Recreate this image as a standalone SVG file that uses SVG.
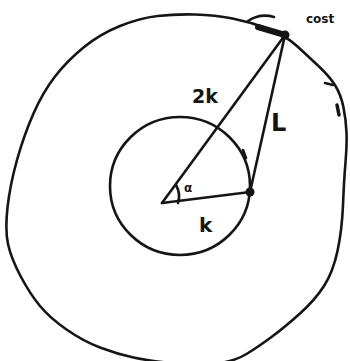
<svg xmlns="http://www.w3.org/2000/svg" width="350" height="361" viewBox="0 0 350 361">
<style>
.ln{fill:none;stroke:#151515;stroke-width:2.6;stroke-linecap:round;stroke-linejoin:round}
.lb{font-family:"DejaVu Sans","Liberation Sans",sans-serif;fill:#151515;font-weight:bold}
</style>
<rect width="350" height="361" fill="#ffffff"/>
<g id="outer-circle">
<path class="ln" d="M157.5,16 Q175,14 195,14.5 Q215,15 232.5,18.5 Q250,22 267.5,28.5 Q285,35 297.5,46.5 Q310,58 320,67.5 Q330,77 335.5,86 Q341,95 343.5,107.5 Q346,120 346.5,132.5 Q347,145 345.5,162.5 Q344,180 343,205 Q342,230 337.5,251 Q333,272 324,286 Q315,300 300,313.5 Q285,327 271.5,337 Q258,347 246.5,354 Q235,361 217.5,363.5 Q200,366 175,363.5 Q150,361 133.5,357.5 Q117,354 100,347.5 Q83,341 66.5,329.5 Q50,318 40,306 Q30,294 20.5,276 Q11,258 8,244 Q5,230 7.5,207.5 Q10,185 17,160 Q24,135 33.5,113.5 Q43,92 55,76.5 Q67,61 83.5,47.5 Q100,34 120,26 Q140,18 157.5,16 Z"/>
<path class="ln" d="M325,83 L333,85"/>
<path class="ln" style="stroke-width:3.5" d="M337,105 L339,115"/>
</g>
<g id="inner-circle">
<ellipse class="ln" cx="180" cy="186" rx="70" ry="69"/>
<path class="ln" d="M243,150 L246,158"/>
</g>
<g id="connectors">
<line class="ln" x1="162" y1="203" x2="285" y2="35"/>
<line class="ln" x1="162" y1="203" x2="250" y2="192"/>
<line class="ln" x1="250" y1="192" x2="285" y2="35"/>
<path class="ln" d="M176,185 Q181,194 178,203"/>
</g>
<g id="point-top">
<path class="ln" style="stroke-width:6" d="M258,27 L285,35"/>
<circle cx="285" cy="35" r="4.5" fill="#151515"/>
<path class="ln" d="M248,21 Q260,13 274,17"/>
<text class="lb" x="306" y="23" font-size="12">cost</text>
</g>
<g id="point-inner">
<circle cx="250" cy="192" r="4.5" fill="#151515"/>
</g>
<g id="labels">
<text class="lb" x="192" y="103" font-size="19">2k</text>
<text class="lb" x="271" y="131" font-size="24">L</text>
<text class="lb" x="199" y="232" font-size="20">k</text>
<text class="lb" x="184" y="192" font-size="12">α</text>
</g>
</svg>
